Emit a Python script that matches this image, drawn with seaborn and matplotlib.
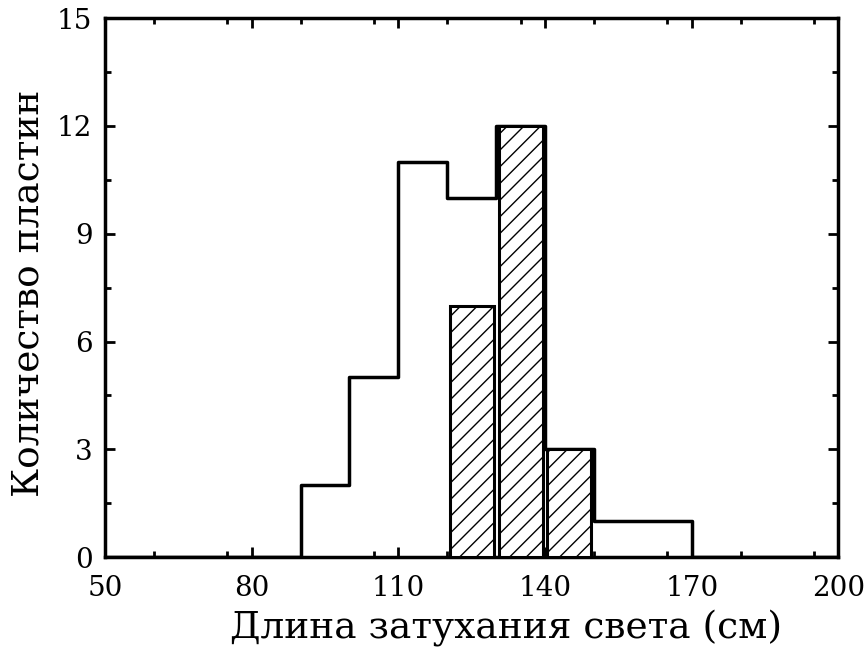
import numpy as np
import matplotlib
matplotlib.use("Agg")
import matplotlib.pyplot as plt
from matplotlib.ticker import MultipleLocator
import seaborn as sns

# все пластины: гистограмма (контур)
bin_edges = [50, 60, 70, 80, 90, 100, 110, 120, 130, 140, 150, 160, 170, 180, 190, 200]
all_counts = [0, 0, 0, 0, 2, 5, 11, 10, 12, 3, 1, 1, 0, 0, 0]

# отобранные пластины (заштрихованные столбцы)
sel_edges = [120, 130, 140, 150]
sel_counts = [7, 12, 3]

x_ticks = [50, 80, 110, 140, 170, 200]
y_ticks = [0, 3, 6, 9, 12, 15]

sns.set_style("ticks")
plt.rcParams['font.family'] = ['DejaVu Serif']
plt.rcParams['hatch.linewidth'] = 1.0
plt.rcParams['axes.edgecolor'] = 'black'
plt.rcParams['xtick.color'] = 'black'
plt.rcParams['ytick.color'] = 'black'
plt.rcParams['axes.labelcolor'] = 'black'

fig = plt.figure(figsize=(8.67, 6.5), dpi=100)
ax = fig.add_axes([0.121, 0.143, 0.846, 0.829])

centers = [(a + b) / 2 for a, b in zip(bin_edges[:-1], bin_edges[1:])]
sns.histplot(x=centers, weights=all_counts, bins=bin_edges, element="step",
             fill=False, color="black", linewidth=2.5, ax=ax)

sel_centers = [(a + b) / 2 for a, b in zip(sel_edges[:-1], sel_edges[1:])]
sns.histplot(x=sel_centers, weights=sel_counts, bins=sel_edges, shrink=0.9,
             element="bars", fill=True, facecolor="white", edgecolor="black",
             linewidth=2.2, hatch="//", alpha=1, ax=ax, zorder=3)

ax.set_xlim(50, 200)
ax.set_ylim(0, 15)
ax.set_xticks(x_ticks)
ax.set_yticks(y_ticks)
ax.xaxis.set_minor_locator(MultipleLocator(15))
ax.yaxis.set_minor_locator(MultipleLocator(1.5))
ax.tick_params(which="both", direction="in", top=True, right=True,
               width=2.0, labelsize=20)
ax.tick_params(axis="x", which="both", pad=13)
ax.tick_params(axis="y", which="both", pad=9)
ax.tick_params(which="major", length=7)
ax.tick_params(which="minor", length=4)
for s in ax.spines.values():
    s.set_linewidth(2.5)

ax.set_xlabel("Длина затухания света (см)", fontsize=27)
ax.set_ylabel("Количество пластин", fontsize=27)
ax.xaxis.set_label_coords(0.547, -0.098)
ax.yaxis.set_label_coords(-0.08, 0.49)

plt.savefig("out.png", dpi=100)
